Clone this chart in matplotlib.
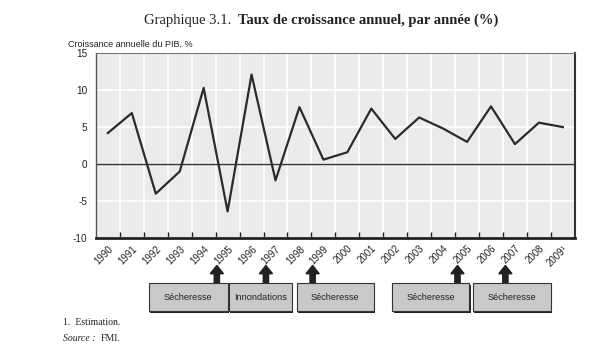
import matplotlib.pyplot as plt
import matplotlib.transforms as mtransforms
from matplotlib import font_manager
from matplotlib.patches import Rectangle, FancyArrow

# annual GDP growth, %
years = ['1990', '1991', '1992', '1993', '1994', '1995', '1996', '1997', '1998', '1999',
         '2000', '2001', '2002', '2003', '2004', '2005', '2006', '2007', '2008', '2009¹']
growth = [4.2, 6.9, -4.0, -1.0, 10.3, -6.4, 12.1, -2.2, 7.7, 0.6,
          1.6, 7.5, 3.4, 6.3, 4.8, 3.0, 7.8, 2.7, 5.6, 5.0]

# events under the chart: label, box start, box end, arrow position (in year index)
event_labels = ['Sécheresse', 'Innondations', 'Sécheresse', 'Sécheresse', 'Sécheresse']
event_start = [1.7, 5.05, 7.88, 11.88, 15.25]
event_end = [5.0, 7.67, 11.1, 15.1, 18.5]
event_arrow = [4.55, 6.6, 8.55, 14.6, 16.6]

plt.rcParams['axes.unicode_minus'] = False

names = {f.name for f in font_manager.fontManager.ttflist}
if 'Liberation Sans Narrow' in names:
    sans = ['Liberation Sans Narrow', 'DejaVu Sans']
    small = 7.8
else:
    sans = ['Liberation Sans', 'DejaVu Sans']
    small = 7.2
serif = ['Liberation Serif', 'DejaVu Serif']

fig = plt.figure(figsize=(6.07, 3.45), dpi=100)
ax = fig.add_axes([0.158, 0.310, 0.789, 0.536])
ax.set_facecolor('#ebebeb')

x = list(range(len(years)))
ax.plot(x, growth, color='#2b2b2b', linewidth=1.6, zorder=3)
ax.axhline(0, color='#333333', linewidth=1.0, zorder=2)

ax.set_xlim(-0.5, len(years) - 0.5)
ax.set_ylim(-10, 15)
ax.set_yticks([-10, -5, 0, 5, 10, 15])
ax.set_xticks(x)
ax.set_xticks([i + 0.5 for i in x[:-1]], minor=True)
ax.set_xticklabels(years, rotation=45, ha='right', rotation_mode='anchor',
                   family=sans, fontsize=small - 0.3, color='#222222')
for lab in ax.get_yticklabels():
    lab.set_family(sans)
    lab.set_fontsize(small)
    lab.set_color('#222222')

ax.tick_params(axis='x', which='major', length=0, pad=4)
ax.tick_params(axis='x', which='minor', direction='in', length=4, width=1, color='#222222')
ax.tick_params(axis='y', length=0, pad=6)

ax.grid(True, which='minor', axis='x', color='white', linewidth=1.2)
ax.grid(True, which='major', axis='y', color='white', linewidth=1.2)
ax.set_axisbelow(True)

ax.spines['bottom'].set_linewidth(2)
ax.spines['bottom'].set_color('#222222')
ax.spines['right'].set_linewidth(1.5)
ax.spines['right'].set_color('#333333')
ax.spines['left'].set_linewidth(1)
ax.spines['left'].set_color('#555555')
ax.spines['top'].set_linewidth(0.8)
ax.spines['top'].set_color('#777777')

# event boxes and arrows below the axis
trans = mtransforms.blended_transform_factory(ax.transData, ax.transAxes)
box_bottom, box_top = -0.395, -0.243
for lab, s, e, a in zip(event_labels, event_start, event_end, event_arrow):
    shadow = Rectangle((s + 0.06, box_bottom - 0.012), e - s, box_top - box_bottom,
                       transform=trans, clip_on=False, facecolor='#222222',
                       edgecolor='none', zorder=5)
    box = Rectangle((s, box_bottom), e - s, box_top - box_bottom, transform=trans,
                    clip_on=False, facecolor='#c9c9c9', edgecolor='#333333',
                    linewidth=0.8, zorder=6)
    ax.add_patch(shadow)
    ax.add_patch(box)
    ax.text((s + e) / 2, (box_top + box_bottom) / 2, lab, transform=trans, family=sans,
            fontsize=small - 0.6, ha='center', va='center', color='#222222',
            clip_on=False, zorder=7)
    arr = FancyArrow(a, box_top, 0, 0.095, width=0.22, head_width=0.55,
                     head_length=0.045, length_includes_head=True, transform=trans,
                     clip_on=False, facecolor='#222222', edgecolor='#222222', zorder=5)
    ax.add_patch(arr)

fig.text(0.112, 0.872, 'Croissance annuelle du PIB, %', family=sans, fontsize=6.5,
         ha='left', va='center', color='#222222')

# title in two parts (normal + bold), placed side by side and centred
r = fig.canvas.get_renderer()
t1 = fig.text(0, 0.942, 'Graphique 3.1.  ', family=serif, fontsize=10.5, ha='left',
              va='center', color='#222222')
t2 = fig.text(0, 0.942, 'Taux de croissance annuel, par année (%)', family=serif,
              fontsize=10.5, fontweight='bold', ha='left', va='center', color='#222222')
w1 = t1.get_window_extent(r).width / fig.bbox.width
w2 = t2.get_window_extent(r).width / fig.bbox.width
x0 = 0.529 - (w1 + w2) / 2
t1.set_x(x0)
t2.set_x(x0 + w1)

fig.text(0.104, 0.066, '1.  Estimation.', family=serif, fontsize=7, ha='left',
         va='center', color='#222222')
s1 = fig.text(0.104, 0.020, 'Source :  ', family=serif, fontsize=7, style='italic',
              ha='left', va='center', color='#222222')
ws = s1.get_window_extent(r).width / fig.bbox.width
fig.text(0.104 + ws, 0.020, 'FMI.', family=serif, fontsize=7, ha='left',
         va='center', color='#222222')

fig.savefig('out.png', dpi=100)
